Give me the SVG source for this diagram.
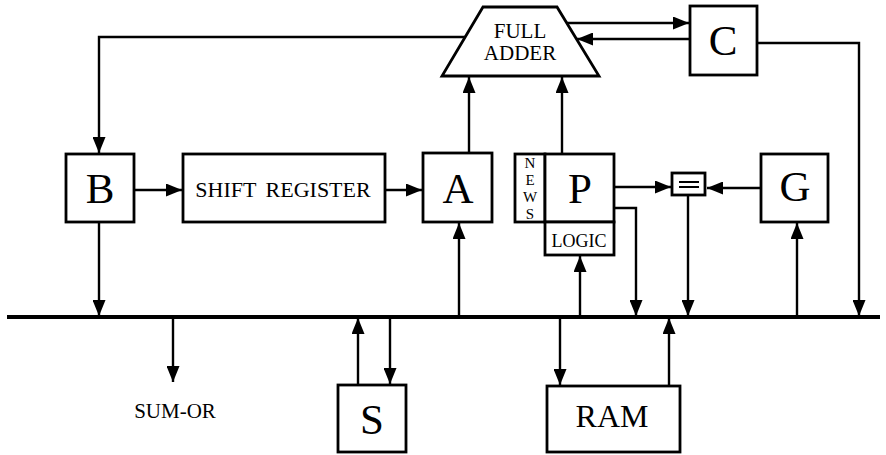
<svg xmlns="http://www.w3.org/2000/svg" width="886" height="455" viewBox="0 0 886 455">
<style>
.box{fill:#fff;stroke:#000;stroke-width:2.8}
.ln{fill:none;stroke:#000;stroke-width:2.2}
.ar{fill:none;stroke:#000;stroke-width:2.4;marker-end:url(#ah)}
.big{font-family:"Liberation Serif","Times New Roman",serif;font-size:43px;text-anchor:middle;fill:#000}
.txt{font-family:"Liberation Serif","Times New Roman",serif;text-anchor:middle;fill:#000}
</style>
<defs>
<marker id="ah" markerUnits="userSpaceOnUse" markerWidth="17" markerHeight="13" refX="16" refY="6.5" orient="auto">
<path d="M0,0 L16,6.5 L0,13 z" fill="#000"/>
</marker>
</defs>
<rect width="886" height="455" fill="#fff"/>
<g id="connectors">
<line x1="7" y1="317" x2="880" y2="317" stroke="#000" stroke-width="4"/>
<polyline class="ar" points="465,37 99,37 99,153"/>
<line class="ar" x1="134" y1="190" x2="182" y2="190"/>
<line class="ar" x1="385" y1="190" x2="422" y2="190"/>
<line class="ar" x1="469" y1="153" x2="469" y2="77"/>
<line class="ar" x1="562" y1="154" x2="562" y2="77"/>
<line class="ar" x1="566" y1="23" x2="689" y2="23"/>
<line class="ar" x1="690" y1="39" x2="577" y2="39"/>
<polyline class="ar" points="757,43 859,43 859,316"/>
<line class="ar" x1="614" y1="187" x2="671" y2="187"/>
<polyline class="ar" points="614,208 636,208 636,316"/>
<line class="ar" x1="688" y1="195" x2="688" y2="316"/>
<line class="ar" x1="761" y1="188" x2="707" y2="188"/>
<line class="ar" x1="797" y1="317" x2="797" y2="223"/>
<line class="ar" x1="580" y1="317" x2="580" y2="256"/>
<line class="ar" x1="459" y1="317" x2="459" y2="223"/>
<line class="ar" x1="99" y1="222" x2="99" y2="316"/>
<line class="ar" x1="173" y1="317" x2="173" y2="382"/>
<line class="ar" x1="358" y1="385" x2="358" y2="318"/>
<line class="ar" x1="390" y1="317" x2="390" y2="384"/>
<line class="ar" x1="560" y1="317" x2="560" y2="385"/>
<line class="ar" x1="669" y1="386" x2="669" y2="318"/>
</g>
<g id="full-adder">
<polygon class="box" points="483,7 557,7 599,76 442,76"/>
<text class="txt" x="520" y="38" font-size="21">FULL</text>
<text class="txt" x="520" y="60" font-size="21">ADDER</text>
</g>
<g id="C">
<rect class="box" x="690" y="6" width="67" height="69"/>
<text class="big" x="723" y="55">C</text>
</g>
<g id="B">
<rect class="box" x="66" y="154" width="68" height="68"/>
<text class="big" x="100" y="203">B</text>
</g>
<g id="shift-register">
<rect class="box" x="183" y="154" width="202" height="68"/>
<text class="txt" x="283" y="197" font-size="22" word-spacing="4">SHIFT REGISTER</text>
</g>
<g id="A">
<rect class="box" x="423" y="153" width="69" height="69"/>
<text class="big" x="458" y="203">A</text>
</g>
<g id="news">
<rect class="box" x="515" y="154" width="30" height="68"/>
<text class="txt" x="530" y="168" font-size="15">N</text>
<text class="txt" x="530" y="185" font-size="15">E</text>
<text class="txt" x="530" y="202" font-size="15">W</text>
<text class="txt" x="530" y="219" font-size="15">S</text>
</g>
<g id="P">
<rect class="box" x="545" y="154" width="69" height="68"/>
<text class="big" x="580" y="203">P</text>
</g>
<g id="logic">
<rect class="box" x="545" y="222" width="69" height="33"/>
<text class="txt" x="579" y="247" font-size="18">LOGIC</text>
</g>
<g id="comparator">
<rect class="box" x="672" y="173" width="33" height="22"/>
<line x1="679" y1="182" x2="699" y2="182" stroke="#000" stroke-width="2"/>
<line x1="679" y1="187" x2="699" y2="187" stroke="#000" stroke-width="2"/>
</g>
<g id="G">
<rect class="box" x="761" y="154" width="67" height="68"/>
<text class="big" x="795" y="201">G</text>
</g>
<g id="sum-or">
<text class="txt" x="175" y="418" font-size="21">SUM-OR</text>
</g>
<g id="S">
<rect class="box" x="338" y="385" width="68" height="67"/>
<text class="big" x="372" y="434">S</text>
</g>
<g id="RAM">
<rect class="box" x="547" y="386" width="133" height="66"/>
<text class="txt" x="612" y="427" font-size="32">RAM</text>
</g>
</svg>
